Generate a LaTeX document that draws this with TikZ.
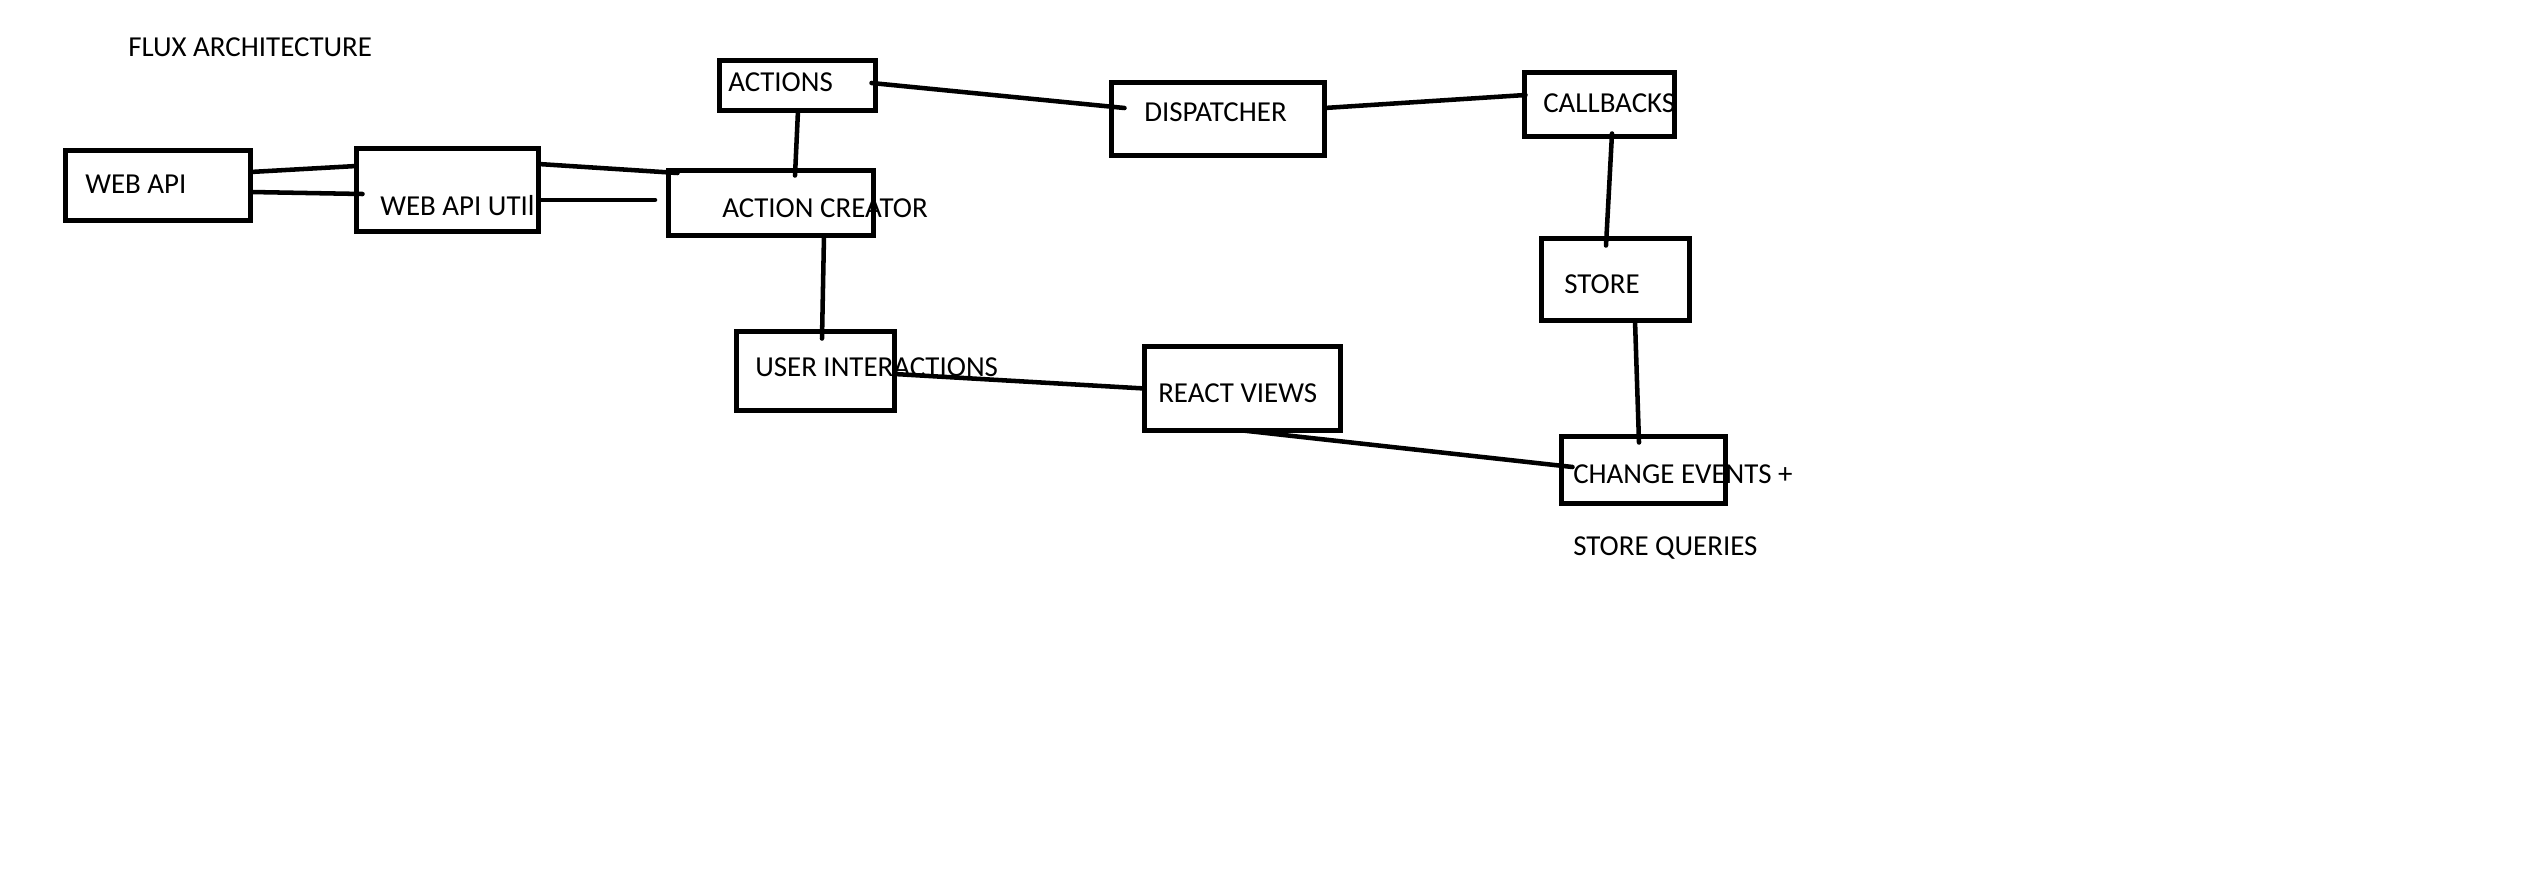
\documentclass[tikz,border=0pt]{standalone}
\usepackage{fontspec}
\setmainfont{Carlito}
\usetikzlibrary{calc}
\begin{document}
\begin{tikzpicture}[x=0.75pt,y=-0.75pt,
  box/.style={draw=black,line width=3.75pt,inner sep=0pt,outer sep=0pt,minimum width=#1},
  lbl/.style={inner sep=0pt,anchor=base west,font=\fontsize{21.7}{25}\selectfont},
  conn/.style={draw=black,line width=3.4pt,line cap=round}]
\useasboundingbox[fill=white] (0,0) rectangle (2535,895);
% boxes
\node[box=185pt*0.75,minimum height=70*0.75pt] (webapi) at (158,185.5) {};
\node[box=182pt*0.75,minimum height=83*0.75pt] (util) at (447.5,190) {};
\node[box=156pt*0.75,minimum height=50*0.75pt] (actions) at (797.5,85.5) {};
\node[box=205pt*0.75,minimum height=65*0.75pt] (ac) at (771,203) {};
\node[box=158pt*0.75,minimum height=79*0.75pt] (ui) at (815.5,371) {};
\node[box=213pt*0.75,minimum height=73*0.75pt] (disp) at (1218,119) {};
\node[box=150pt*0.75,minimum height=64*0.75pt] (cb) at (1599.5,104.5) {};
\node[box=148pt*0.75,minimum height=82*0.75pt] (store) at (1615.5,279.5) {};
\node[box=196pt*0.75,minimum height=84*0.75pt] (rv) at (1242.5,388.5) {};
\node[box=164pt*0.75,minimum height=67*0.75pt] (ce) at (1643.5,470) {};
% texts
\node[lbl] (title) at (128,57) {FLUX ARCHITECTURE};
\node[lbl] (webapi-t) at (85,194) {WEB API};
\node[lbl] (util-t) at (380,216) {WEB API UTIl};
\node[lbl] (actions-t) at (728,92) {ACTIONS};
\node[lbl] (ac-t) at (722,218) {ACTION CREATOR};
\node[lbl] (ui-t) at (755,376) {USER INTERACTIONS};
\node[lbl] (disp-t) at (1144,122) {DISPATCHER};
\node[lbl] (cb-t) at (1543,113) {CALLBACKS};
\node[lbl] (store-t) at (1564,293) {STORE};
\node[lbl] (rv-t) at (1158,402) {REACT VIEWS};
\node[lbl] (ce-t) at (1573,483) {CHANGE EVENTS +};
\node[lbl] (sq-t) at (1573,555) {STORE QUERIES};
\coordinate (gap) at (655,200);
% connectors
\draw[conn] ($(webapi.east)+(0,-13.5)$) -- ($(util.west)+(0,-24)$);
\draw[conn] ($(webapi.east)+(0,6.5)$) -- ($(util.west)+(6,4)$);
\draw[conn] ($(util.east)+(0,-26)$) -- ($(ac.west)+(9,-30)$);
\draw[conn] ($(util.east)+(0,10)$) -- (gap);
\draw[conn] ($(actions.east)+(-4,-2.5)$) -- ($(disp.west)+(13,-11)$);
\draw[conn] ($(actions.south)+(0.5,0)$) -- ($(ac.north)+(24,5)$);
\draw[conn] ($(ac.south)+(53,0)$) -- ($(ui.north)+(6.5,7)$);
\draw[conn] ($(disp.east)+(0,-11)$) -- ($(cb.west)+(1,-9.5)$);
\draw[conn] ($(cb.south)+(12.5,-3)$) -- ($(store.north)+(-9.5,7)$);
\draw[conn] ($(store.south)+(19.5,0)$) -- ($(ce.north)+(-4.5,6)$);
\draw[conn] ($(ui.east)+(0,3)$) -- (rv.west);
\draw[conn] ($(rv.south)+(0.5,0)$) -- ($(ce.west)+(11,-3)$);
\end{tikzpicture}
\end{document}
